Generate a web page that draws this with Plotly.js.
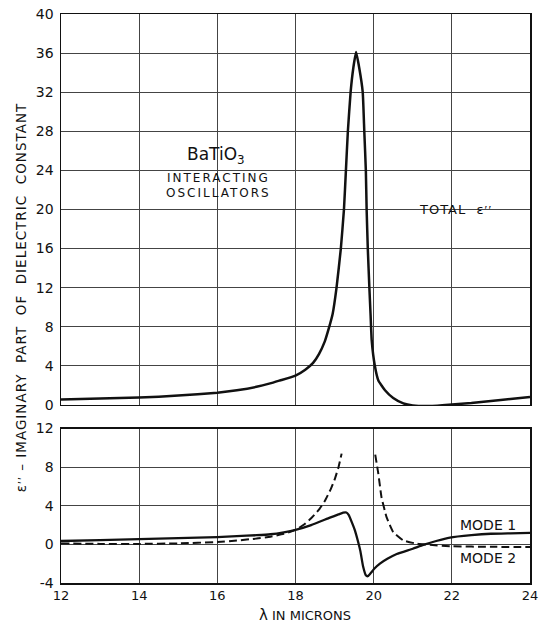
<!DOCTYPE html>
<html>
<head>
<meta charset="utf-8">
<script src="https://cdn.plot.ly/plotly-3.0.1.min.js"></script>
<style>
html,body{margin:0;padding:0;background:#fff;}
#chart{width:539px;height:625px;}
</style>
</head>
<body>
<div id="chart"></div>
<script>
// Top panel: total epsilon''
const totalX = [12, 13, 14, 15, 16, 16.5, 17, 17.35, 17.6, 18, 18.25, 18.45, 18.6, 18.75, 18.85, 18.95, 19.05, 19.16, 19.24, 19.29, 19.34, 19.41, 19.48, 19.55, 19.63, 19.72, 19.76, 19.80, 19.82, 19.85, 19.89, 19.92, 19.95, 20.03, 20.12, 20.29, 20.5, 20.76, 21.0, 21.5, 22, 22.5, 23, 23.5, 24];
const totalY = [0.55, 0.65, 0.75, 0.95, 1.25, 1.5, 1.85, 2.2, 2.5, 3.0, 3.6, 4.3, 5.2, 6.5, 7.8, 9.3, 12, 16, 20, 24, 28, 32, 34.5, 36.1, 34.5, 32, 28, 24, 20, 16, 12, 9.3, 6.6, 4, 2.5, 1.5, 0.7, 0.15, -0.05, -0.1, 0.05, 0.2, 0.4, 0.6, 0.8];

// Bottom panel: mode 1 (solid)
const mode1X = [12, 13, 14, 15, 16, 16.5, 17, 17.36, 17.7, 18.0, 18.4, 18.88, 19.1, 19.22, 19.3, 19.36, 19.45, 19.52, 19.6, 19.66, 19.73, 19.8, 19.85, 19.92, 20.02, 20.16, 20.35, 20.59, 21.0, 21.27, 21.6, 21.95, 22.5, 23, 23.5, 24];
const mode1Y = [0.35, 0.45, 0.55, 0.65, 0.75, 0.85, 0.95, 1.05, 1.25, 1.5, 2.0, 2.77, 3.1, 3.28, 3.3, 3.05, 2.2, 1.45, 0.3, -0.7, -2.3, -3.2, -3.3, -3.0, -2.5, -2.0, -1.5, -1.0, -0.45, -0.05, 0.35, 0.7, 0.95, 1.1, 1.15, 1.2];

// Bottom panel: mode 2 (dashed), broken near the pole
const mode2X = [12, 13, 14, 15, 16, 16.5, 17, 17.36, 17.7, 18.0, 18.2, 18.4, 18.6, 18.75, 18.9, 19.0, 19.1, 19.18, null, 20.04, 20.12, 20.2, 20.33, 20.5, 20.76, 21.1, 21.44, 22, 23, 24];
const mode2Y = [0.1, 0.05, 0.05, 0.1, 0.25, 0.4, 0.6, 0.8, 1.1, 1.5, 2.0, 2.7, 3.6, 4.5, 5.7, 6.7, 8.0, 9.4, null, 9.3, 7.3, 4.9, 2.83, 1.28, 0.41, 0.07, -0.05, -0.2, -0.25, -0.28];

const xTicks = [12, 14, 16, 18, 20, 22, 24];
const topTicks = [0, 4, 8, 12, 16, 20, 24, 28, 32, 36, 40];
const bottomTicks = [-4, 0, 4, 8, 12];

const FONT = 'DejaVu Sans, Arial, sans-serif';
const INK = '#111';
const EPS = 'ε<span style="font-family:Liberation Serif">\u2032\u2032</span>';

const traces = [
  {x: totalX, y: totalY, xaxis: 'x2', yaxis: 'y', mode: 'lines', line: {color: INK, width: 2.5, shape: 'spline', smoothing: 0.4}, hoverinfo: 'skip'},
  {x: mode2X, y: mode2Y, xaxis: 'x', yaxis: 'y2', mode: 'lines', connectgaps: false, line: {color: INK, width: 2, dash: '8px,4px', shape: 'spline', smoothing: 0.4}, hoverinfo: 'skip'},
  {x: mode1X, y: mode1Y, xaxis: 'x', yaxis: 'y2', mode: 'lines', line: {color: INK, width: 2.3, shape: 'spline', smoothing: 0.4}, hoverinfo: 'skip'}
];

const gridCol = '#444';
const axBase = {
  showline: true, mirror: true, linecolor: INK, linewidth: 1.5,
  showgrid: true, gridcolor: gridCol, gridwidth: 1, zeroline: false,
  ticks: '', fixedrange: true
};

function ann(o) { return Object.assign({showarrow: false, xanchor: 'center', yanchor: 'middle'}, o); }

const layout = {
  width: 539, height: 625,
  margin: {l: 61, r: 9, t: 14, b: 42},
  paper_bgcolor: '#fff', plot_bgcolor: '#fff',
  showlegend: false,
  font: {family: FONT, color: INK, size: 13},
  xaxis: Object.assign({}, axBase, {domain: [0, 1], anchor: 'y2', range: [12, 24], tickvals: xTicks, ticktext: xTicks.map(String), tickfont: {size: 13, family: FONT, color: INK}}),
  xaxis2: Object.assign({}, axBase, {domain: [0, 1], anchor: 'y', range: [12, 24], tickvals: xTicks, showticklabels: false, matches: 'x'}),
  yaxis: Object.assign({}, axBase, {domain: [0.313, 1], anchor: 'x2', range: [0, 40], tickvals: topTicks, ticktext: topTicks.map(String), tickfont: {size: 14, family: FONT, color: INK}, ticklabelstandoff: 3}),
  yaxis2: Object.assign({}, axBase, {domain: [0, 0.2715], anchor: 'x', range: [-4, 12], tickvals: bottomTicks, ticktext: bottomTicks.map(String), tickfont: {size: 14, family: FONT, color: INK}, ticklabelstandoff: 3}),
  shapes: [
    {type: 'rect', xref: 'x2', yref: 'y', x0: 14.03, x1: 17.96, y0: 20.12, y1: 27.88, fillcolor: '#fff', line: {width: 0}, layer: 'below'},
    {type: 'rect', xref: 'x2', yref: 'y', x0: 13.97, x1: 14.05, y0: 20.12, y1: 23.9, fillcolor: '#fff', line: {width: 0}, layer: 'below'},
    {type: 'rect', xref: 'x2', yref: 'y', x0: 20.04, x1: 23.96, y0: 19.0, y1: 21.0, fillcolor: '#fff', line: {width: 0}, layer: 'below'}
  ],
  annotations: [
    ann({xref: 'x2', yref: 'y', x: 15.96, y: 25.5, text: 'BaTiO<sub>3</sub>', font: {size: 17, family: FONT, color: INK}}),
    ann({xref: 'x2', yref: 'y', x: 16.03, y: 23.2, text: 'INTERACTING', font: {size: 12, family: FONT, color: INK}, name: 'sp2'}),
    ann({xref: 'x2', yref: 'y', x: 16.03, y: 21.7, text: 'OSCILLATORS', font: {size: 12, family: FONT, color: INK}, name: 'sp2'}),
    ann({xref: 'x2', yref: 'y', x: 22.09, y: 19.96, text: 'TOTAL  ' + EPS, font: {size: 13, family: FONT, color: INK}, name: 'sp1'}),
    ann({xref: 'x', yref: 'y2', x: 22.93, y: 2.0, text: 'MODE 1', font: {size: 14, family: FONT, color: INK}}),
    ann({xref: 'x', yref: 'y2', x: 22.92, y: -1.4, text: 'MODE 2', font: {size: 14, family: FONT, color: INK}}),
    ann({xref: 'paper', yref: 'paper', x: -0.0853, y: 0.503, text: EPS + ' – IMAGINARY\u00A0 PART\u00A0 OF\u00A0 DIELECTRIC\u00A0 CONSTANT', textangle: -90, font: {size: 13.5, family: FONT, color: INK}, name: 'sp1'}),
    ann({xref: 'paper', yref: 'paper', x: 0.521, y: -0.057, text: '<span style="font-size:15px">λ</span> IN MICRONS', font: {size: 13, family: FONT, color: INK}})
  ]
};

Plotly.newPlot('chart', traces, layout, {staticPlot: true, displayModeBar: false}).then(function (gd) {
  // widen letter spacing on lettered labels, as in the hand-lettered original
  const spacing = {sp1: '1px', sp2: '2px'};
  const anns = gd.querySelectorAll('.annotation');
  layout.annotations.forEach(function (a, i) {
    if (a.name && spacing[a.name] && anns[i]) {
      const t = anns[i].querySelector('text');
      if (t) t.style.letterSpacing = spacing[a.name];
    }
  });
});
</script>
</body>
</html>
